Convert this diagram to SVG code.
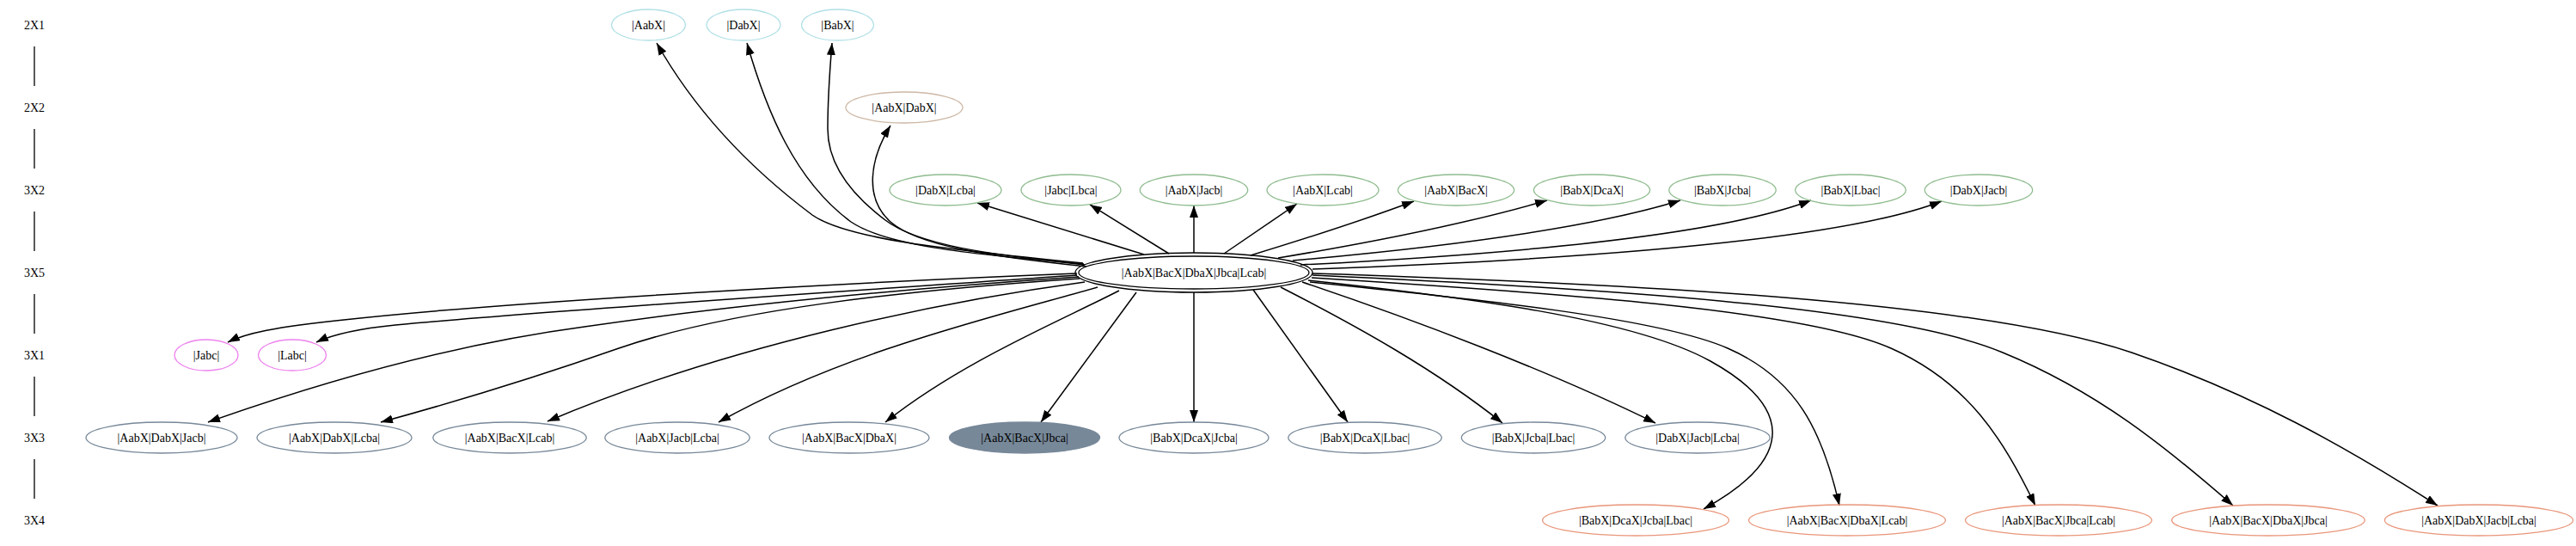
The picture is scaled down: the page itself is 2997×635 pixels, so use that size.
<svg xmlns="http://www.w3.org/2000/svg" width="2997" height="635" viewBox="0 0 2997 635">
<style>
text{font-family:"Liberation Serif","Times New Roman",serif;font-size:14px;text-anchor:middle;fill:#000}
ellipse{fill:none;stroke-width:1.3}
.r21{stroke:#b0e0e6}
.r22{stroke:#cdb8a5}
.r32{stroke:#8fbc8f}
.r31{stroke:#ee82ee}
.r33{stroke:#778899}
.r34{stroke:#e9967a}
.fill{fill:#778899}
.ctr{stroke:#000}
.e{fill:none;stroke:#000;stroke-width:1.5;marker-end:url(#ah)}
.rl{stroke:#000;stroke-width:1.3}
</style>
<defs>
<marker id="ah" markerUnits="userSpaceOnUse" markerWidth="15" markerHeight="11" refX="14" refY="5" orient="auto" viewBox="0 0 15 11">
<path d="M0,0 L14,5 L0,10 z" fill="#000"/>
</marker>
</defs>
<rect width="2997" height="635" fill="#fff"/>
<g id="ranks">
<text x="40" y="34">2X1</text>
<text x="40" y="130">2X2</text>
<text x="40" y="226">3X2</text>
<text x="40" y="322">3X5</text>
<text x="40" y="418">3X1</text>
<text x="40" y="514">3X3</text>
<text x="40" y="610">3X4</text>
<line class="rl" x1="40" y1="54" x2="40" y2="100"/>
<line class="rl" x1="40" y1="150" x2="40" y2="196"/>
<line class="rl" x1="40" y1="246" x2="40" y2="292"/>
<line class="rl" x1="40" y1="342" x2="40" y2="388"/>
<line class="rl" x1="40" y1="438" x2="40" y2="484"/>
<line class="rl" x1="40" y1="534" x2="40" y2="580"/>
</g>
<g id="edges">
<path class="e" d="M1260,306 C1100,290 985,278 945,250 C885,205 815,140 764,50"/>
<path class="e" d="M1261,307 C1120,295 1030,285 990,258 C925,210 892,130 869,50"/>
<path class="e" d="M1262,308 C1150,296 1068,285 1030,256 C990,226 963,190 963,150 C963,110 966,75 968,50"/>
<path class="e" d="M1264,310 C1150,298 1068,286 1036,258 C1005,230 1012,185 1036,146"/>
<path class="e" d="M1331,296 L1137,236"/>
<path class="e" d="M1360,295 L1268,238"/>
<path class="e" d="M1389,294 L1389,239"/>
<path class="e" d="M1424,295 L1509,237"/>
<path class="e" d="M1455,297 Q1570,262 1645,234"/>
<path class="e" d="M1487,300 Q1680,268 1800,233"/>
<path class="e" d="M1504,303 Q1820,275 1955,233"/>
<path class="e" d="M1513,308 Q1970,285 2107,233"/>
<path class="e" d="M1527,313 Q2110,292 2259,234"/>
<path class="e" d="M1253,318 C1000,328 600,350 400,372 C320,380 285,388 265,398"/>
<path class="e" d="M1253,320 C1000,338 650,360 460,378 C410,383 385,390 368,398"/>
<path class="e" d="M1255,322 C1050,336 850,355 680,380 C560,396 420,428 242,491"/>
<path class="e" d="M1256,324 C1050,338 850,360 720,405 C620,440 520,470 443,491"/>
<path class="e" d="M1262,328 C1100,350 850,400 637,490"/>
<path class="e" d="M1277,334 C1150,370 980,410 836,491"/>
<path class="e" d="M1302,338 C1230,375 1120,420 1030,491"/>
<path class="e" d="M1322,340 L1211,491"/>
<path class="e" d="M1389,340 L1389,491"/>
<path class="e" d="M1458,337 L1568,491"/>
<path class="e" d="M1490,334 C1580,380 1670,430 1748,492"/>
<path class="e" d="M1515,328 C1640,370 1800,430 1926,492"/>
<path class="e" d="M1522,326 C1700,345 1900,370 1990,420 C2080,470 2095,530 1982,592"/>
<path class="e" d="M1524,328 C1720,348 1930,370 2010,405 C2090,440 2120,500 2140,588"/>
<path class="e" d="M1526,323 C1800,340 2100,360 2200,405 C2290,445 2330,510 2368,588"/>
<path class="e" d="M1527,320 C1850,335 2200,355 2330,410 C2440,455 2520,520 2598,588"/>
<path class="e" d="M1527,318 C1900,330 2300,350 2480,410 C2620,458 2730,520 2836,588"/>
</g>
<g id="n_AabX"><ellipse class="r21" cx="754.5" cy="29" rx="43" ry="18"/><text x="754.5" y="34">|AabX|</text></g>
<g id="n_DabX"><ellipse class="r21" cx="865" cy="29" rx="43" ry="18"/><text x="865" y="34">|DabX|</text></g>
<g id="n_BabX"><ellipse class="r21" cx="974.5" cy="29" rx="42" ry="18"/><text x="974.5" y="34">|BabX|</text></g>
<g id="n_AabX_DabX"><ellipse class="r22" cx="1052" cy="125" rx="68" ry="18"/><text x="1052" y="130">|AabX|DabX|</text></g>
<g id="n_DabX_Lcba"><ellipse class="r32" cx="1100" cy="221" rx="65" ry="18"/><text x="1100" y="226">|DabX|Lcba|</text></g>
<g id="n_Jabc_Lbca"><ellipse class="r32" cx="1246" cy="221" rx="58" ry="18"/><text x="1246" y="226">|Jabc|Lbca|</text></g>
<g id="n_AabX_Jacb"><ellipse class="r32" cx="1389" cy="221" rx="62.7" ry="18"/><text x="1389" y="226">|AabX|Jacb|</text></g>
<g id="n_AabX_Lcab"><ellipse class="r32" cx="1539" cy="221" rx="65" ry="18"/><text x="1539" y="226">|AabX|Lcab|</text></g>
<g id="n_AabX_BacX"><ellipse class="r32" cx="1694" cy="221" rx="67.6" ry="18"/><text x="1694" y="226">|AabX|BacX|</text></g>
<g id="n_BabX_DcaX"><ellipse class="r32" cx="1852" cy="221" rx="67.6" ry="18"/><text x="1852" y="226">|BabX|DcaX|</text></g>
<g id="n_BabX_Jcba"><ellipse class="r32" cx="2004" cy="221" rx="62.2" ry="18"/><text x="2004" y="226">|BabX|Jcba|</text></g>
<g id="n_BabX_Lbac"><ellipse class="r32" cx="2153" cy="221" rx="64.3" ry="18"/><text x="2153" y="226">|BabX|Lbac|</text></g>
<g id="n_DabX_Jacb"><ellipse class="r32" cx="2302" cy="221" rx="62.7" ry="18"/><text x="2302" y="226">|DabX|Jacb|</text></g>
<g id="n_center"><ellipse class="ctr" cx="1389" cy="317" rx="138" ry="23"/><ellipse class="ctr" cx="1389" cy="317" rx="134" ry="19"/><text x="1389" y="322">|AabX|BacX|DbaX|Jbca|Lcab|</text></g>
<g id="n_Jabc"><ellipse class="r31" cx="240" cy="413" rx="37" ry="18"/><text x="240" y="418">|Jabc|</text></g>
<g id="n_Labc"><ellipse class="r31" cx="340" cy="413" rx="39.5" ry="18"/><text x="340" y="418">|Labc|</text></g>
<g id="n_AabX_DabX_Jacb"><ellipse class="r33" cx="188" cy="509" rx="88" ry="18"/><text x="188" y="514">|AabX|DabX|Jacb|</text></g>
<g id="n_AabX_DabX_Lcba"><ellipse class="r33" cx="389" cy="509" rx="90" ry="18"/><text x="389" y="514">|AabX|DabX|Lcba|</text></g>
<g id="n_AabX_BacX_Lcab"><ellipse class="r33" cx="593" cy="509" rx="89.2" ry="18"/><text x="593" y="514">|AabX|BacX|Lcab|</text></g>
<g id="n_AabX_Jacb_Lcba"><ellipse class="r33" cx="788" cy="509" rx="84.2" ry="18"/><text x="788" y="514">|AabX|Jacb|Lcba|</text></g>
<g id="n_AabX_BacX_DbaX"><ellipse class="r33" cx="988" cy="509" rx="93" ry="18"/><text x="988" y="514">|AabX|BacX|DbaX|</text></g>
<g id="n_AabX_BacX_Jbca"><ellipse class="r33 fill" cx="1192" cy="509" rx="87.5" ry="18"/><text x="1192" y="514">|AabX|BacX|Jbca|</text></g>
<g id="n_BabX_DcaX_Jcba"><ellipse class="r33" cx="1389" cy="509" rx="87" ry="18"/><text x="1389" y="514">|BabX|DcaX|Jcba|</text></g>
<g id="n_BabX_DcaX_Lbac"><ellipse class="r33" cx="1588" cy="509" rx="89.2" ry="18"/><text x="1588" y="514">|BabX|DcaX|Lbac|</text></g>
<g id="n_BabX_Jcba_Lbac"><ellipse class="r33" cx="1784" cy="509" rx="83.7" ry="18"/><text x="1784" y="514">|BabX|Jcba|Lbac|</text></g>
<g id="n_DabX_Jacb_Lcba"><ellipse class="r33" cx="1975" cy="509" rx="84.2" ry="18"/><text x="1975" y="514">|DabX|Jacb|Lcba|</text></g>
<g id="n_BabX_DcaX_Jcba_Lbac"><ellipse class="r34" cx="1903" cy="605" rx="108.5" ry="18"/><text x="1903" y="610">|BabX|DcaX|Jcba|Lbac|</text></g>
<g id="n_AabX_BacX_DbaX_Lcab"><ellipse class="r34" cx="2149" cy="605" rx="114.5" ry="18"/><text x="2149" y="610">|AabX|BacX|DbaX|Lcab|</text></g>
<g id="n_AabX_BacX_Jbca_Lcab"><ellipse class="r34" cx="2395" cy="605" rx="108.5" ry="18"/><text x="2395" y="610">|AabX|BacX|Jbca|Lcab|</text></g>
<g id="n_AabX_BacX_DbaX_Jbca"><ellipse class="r34" cx="2639" cy="605" rx="112.3" ry="18"/><text x="2639" y="610">|AabX|BacX|DbaX|Jbca|</text></g>
<g id="n_AabX_DabX_Jacb_Lcba"><ellipse class="r34" cx="2884" cy="605" rx="109.6" ry="18"/><text x="2884" y="610">|AabX|DabX|Jacb|Lcba|</text></g>
</svg>
